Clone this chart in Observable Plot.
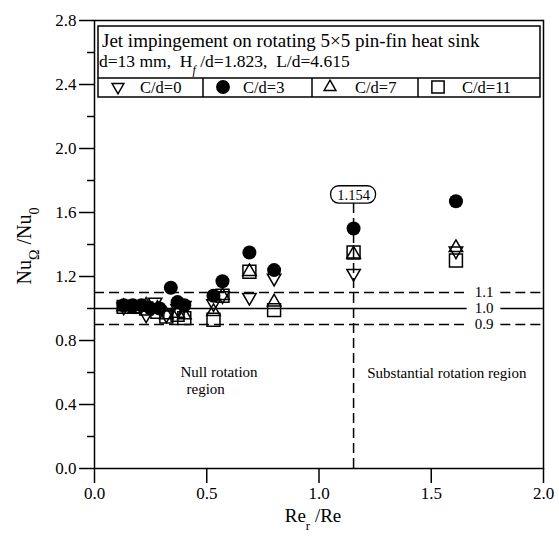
<!DOCTYPE html>
<html><head><meta charset="utf-8">
<script src="https://cdn.jsdelivr.net/npm/d3@7"></script>
<script src="https://cdn.jsdelivr.net/npm/@observablehq/plot@0.6"></script>
<style>body{margin:0;background:#fff} #chart{width:559px;height:536px}</style>
</head><body><div id="chart"></div>
<script>
// ---- data ----
const seriesNames = ["C/d=0", "C/d=3", "C/d=7", "C/d=11"];
const xCd0 = [0.13, 0.18, 0.23, 0.27, 0.32, 0.37, 0.40, 0.53, 0.57, 0.69, 0.80, 1.154, 1.61];
const yCd0 = [1.01, 1.02, 0.96, 1.04, 0.96, 1.00, 1.02, 1.03, 1.08, 1.07, 1.19, 1.22, 1.36];
const xCd3 = [0.13, 0.17, 0.21, 0.25, 0.29, 0.34, 0.37, 0.40, 0.53, 0.57, 0.69, 0.80, 1.154, 1.61];
const yCd3 = [1.02, 1.02, 1.02, 1.00, 1.00, 1.13, 1.04, 1.02, 1.08, 1.17, 1.35, 1.24, 1.50, 1.67];
const xCd7 = [0.13, 0.18, 0.23, 0.28, 0.32, 0.37, 0.40, 0.53, 0.57, 0.69, 0.80, 1.154, 1.61];
const yCd7 = [1.01, 1.00, 1.02, 1.00, 0.96, 0.97, 0.96, 0.98, 1.08, 1.23, 1.04, 1.34, 1.38];
const xCd11 = [0.13, 0.18, 0.23, 0.28, 0.32, 0.37, 0.40, 0.53, 0.57, 0.69, 0.80, 1.154, 1.61];
const yCd11 = [1.01, 1.01, 1.00, 0.98, 0.95, 0.96, 0.94, 0.93, 1.08, 1.23, 0.99, 1.35, 1.30];
const xTicks = [0, 0.5, 1.0, 1.5, 2.0];
const yTicks = [0, 0.4, 0.8, 1.2, 1.6, 2.0, 2.4, 2.8];
const yMinorTicks = [0.2, 0.6, 1.0, 1.4, 1.8, 2.2, 2.6];
const refDashed = [1.1, 0.9];
const refSolid = [1.0];
const refValues = [1.1, 1.0, 0.9];
const markerLine = [1.154];
const regionLabels = [
  {x: 0.383, y: 0.60, text: "Null rotation"},
  {x: 0.41, y: 0.495, text: "region"},
  {x: 1.215, y: 0.594, text: "Substantial rotation region"}
];

const zip = (xs, ys) => xs.map((x, i) => ({x, y: ys[i]}));
const d0 = zip(xCd0, yCd0), d3s = zip(xCd3, yCd3), d7 = zip(xCd7, yCd7), d11 = zip(xCd11, yCd11);

const FONT = "'Liberation Serif', 'Times New Roman', serif";
const dash = "10,5";

const plot = Plot.plot({
  width: 559, height: 536,
  marginLeft: 94, marginRight: 16, marginTop: 20, marginBottom: 68,
  style: {fontFamily: FONT, background: "white", color: "black"},
  x: {domain: [0, 2]},
  y: {domain: [0, 2.8]},
  marks: [
    Plot.axisY(yTicks, {tickSize: 15, tickPadding: 3, tickFormat: d3.format(".1f"), fontSize: 17, strokeWidth: 1.5, label: null}),
    Plot.axisY(yMinorTicks, {tickSize: 7, tickFormat: () => "", strokeWidth: 1.5, label: null}),
    Plot.axisX(xTicks, {tickSize: 15, tickPadding: 3, tickFormat: d3.format(".1f"), fontSize: 17, strokeWidth: 1.5, label: null}),
    // reference lines, broken around their labels
    Plot.ruleY(refDashed, {y: d => d, x1: 0, x2: 1.66, strokeWidth: 1.5, strokeDasharray: dash}),
    Plot.ruleY(refDashed, {y: d => d, x1: 1.81, x2: 2, strokeWidth: 1.5, strokeDasharray: dash}),
    Plot.ruleY(refSolid, {y: d => d, x1: 0, x2: 1.66, strokeWidth: 1.5}),
    Plot.ruleY(refSolid, {y: d => d, x1: 1.81, x2: 2, strokeWidth: 1.5}),
    Plot.text(refValues, {x: 1.735, y: d => d, text: d => d.toFixed(1), fontSize: 15}),
    // vertical boundary
    Plot.ruleX(markerLine, {x: d => d, y1: 0, y2: 1.656, strokeWidth: 1.5, strokeDasharray: dash}),
    Plot.rect(markerLine, {x1: d => d - 0.1, x2: d => d + 0.1, y1: 1.656, y2: 1.764, rx: 8, fill: "white", stroke: "black", strokeWidth: 1.3}),
    Plot.text(markerLine, {x: d => d, y: 1.71, text: d => d.toFixed(3), fontSize: 14.5}),
    Plot.text(regionLabels, {x: "x", y: "y", text: "text", textAnchor: "start", fontSize: 15}),
    // data
    Plot.dot(d11, {x: "x", y: "y", symbol: "square", r: 7.3, stroke: "black", fill: "none", strokeWidth: 1.5}),
    Plot.dot(d7, {x: "x", y: "y", symbol: "triangle", r: 5, stroke: "black", fill: "none", strokeWidth: 1.5}),
    Plot.dot(d0, {x: "x", y: "y", symbol: "triangle", rotate: 180, r: 5, stroke: "black", fill: "none", strokeWidth: 1.5}),
    Plot.dot(d3s, {x: "x", y: "y", symbol: "circle", r: 7, fill: "black", stroke: "none"}),
    Plot.frame({strokeWidth: 1.5})
  ]
});

document.getElementById("chart").appendChild(plot);

// ---- axis labels with subscripts ----
const svg = d3.select(plot);
const yl = svg.append("text").attr("transform", "translate(31,246) rotate(-90)")
  .attr("text-anchor", "middle").attr("font-size", 20).attr("font-family", FONT).style("white-space", "pre");
yl.append("tspan").text("Nu");
yl.append("tspan").attr("baseline-shift", "sub").attr("font-size", 14).text("Ω");
yl.append("tspan").text(" /Nu");
yl.append("tspan").attr("baseline-shift", "sub").attr("font-size", 14).text("0");

const xl = svg.append("text").attr("x", 313).attr("y", 522)
  .attr("text-anchor", "middle").attr("font-size", 19).attr("font-family", FONT).style("white-space", "pre");
xl.append("tspan").text("Re");
xl.append("tspan").attr("baseline-shift", "sub").attr("font-size", 13).text("r");
xl.append("tspan").text(" /Re");

// ---- legend box ----
const lg = svg.append("g").attr("font-family", FONT).attr("text-anchor", "start");
lg.append("rect").attr("x", 98).attr("y", 26).attr("width", 442).attr("height", 71)
  .attr("fill", "white").attr("stroke", "black").attr("stroke-width", 1.5);
lg.append("line").attr("x1", 98).attr("x2", 540).attr("y1", 78).attr("y2", 78).attr("stroke", "black").attr("stroke-width", 1.5);
[203, 312, 418].forEach(x => lg.append("line").attr("x1", x).attr("x2", x).attr("y1", 78).attr("y2", 97).attr("stroke", "black").attr("stroke-width", 1.5));
lg.append("text").attr("x", 102).attr("y", 47).attr("font-size", 19).text("Jet impingement on rotating 5×5 pin-fin heat sink");
const l2 = lg.append("text").attr("x", 99).attr("y", 67).attr("font-size", 17.5).style("white-space", "pre");
l2.append("tspan").text("d=13 mm,  H");
l2.append("tspan").attr("baseline-shift", "sub").attr("font-size", 12).attr("font-style", "italic").text("f");
l2.append("tspan").text(" /d=1.823,  L/d=4.615");

const legendSym = [
  {type: d3.symbolTriangle, rot: 180, fill: "none", size: 60},
  {type: d3.symbolCircle, rot: 0, fill: "black", size: 120},
  {type: d3.symbolTriangle, rot: 0, fill: "none", size: 60},
  {type: d3.symbolSquare, rot: 0, fill: "none", size: 150}
];
const symX = [118, 223, 330, 438];
const labX = [140, 243, 355, 462];
seriesNames.forEach((name, i) => {
  const s = legendSym[i];
  lg.append("path").attr("d", d3.symbol(s.type, s.size)())
    .attr("transform", `translate(${symX[i]},87) rotate(${s.rot})`)
    .attr("fill", s.fill).attr("stroke", "black").attr("stroke-width", 1.5);
  lg.append("text").attr("x", labX[i]).attr("y", 93).attr("font-size", 16.5).text(name);
});
</script>
</body></html>
